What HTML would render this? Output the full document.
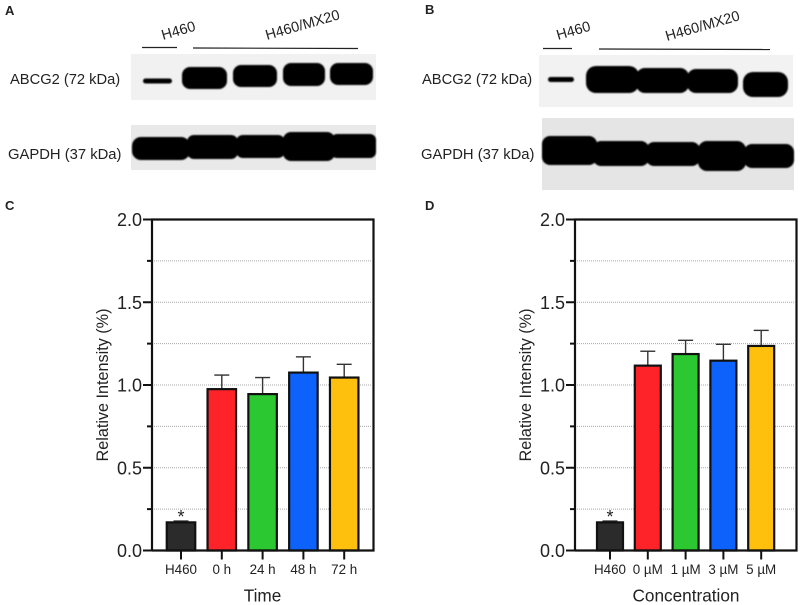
<!DOCTYPE html>
<html>
<head>
<meta charset="utf-8">
<style>
html,body{margin:0;padding:0;background:#fff;width:800px;height:605px;overflow:hidden}
svg{display:block;filter:blur(0.3px)}
text{font-family:"Liberation Sans",sans-serif;fill:#222}
</style>
</head>
<body>
<svg id="fig" xmlns="http://www.w3.org/2000/svg" width="800" height="605" viewBox="0 0 800 605">
<defs>
<filter id="b1" x="-10%" y="-30%" width="120%" height="160%"><feGaussianBlur stdDeviation="0.9"/></filter>
</defs>

<!-- Panel letters -->
<text x="5" y="15" font-size="13" font-weight="bold">A</text>
<text x="425" y="14" font-size="13" font-weight="bold">B</text>
<text x="5" y="210" font-size="13" font-weight="bold">C</text>
<text x="425" y="210" font-size="13" font-weight="bold">D</text>

<!-- Blot A -->
<g>
<line x1="142" y1="47.5" x2="177" y2="47.5" stroke="#222" stroke-width="1.2"/>
<line x1="193" y1="48" x2="358" y2="48.5" stroke="#222" stroke-width="1.2"/>
<text transform="translate(163,40) rotate(-16)" font-size="14.5" fill="#333">H460</text>
<text transform="translate(267,40) rotate(-16)" font-size="14.5" fill="#333">H460/MX20</text>
<text x="10" y="84" font-size="14.7" fill="#333">ABCG2 (72 kDa)</text>
<text x="8" y="159" font-size="14.8" fill="#333">GAPDH (37 kDa)</text>
<rect x="131" y="54" width="245" height="46" fill="#f1f1f1"/>
<rect x="131" y="125" width="245" height="45" fill="#e9e9e9"/>
<g filter="url(#b1)" fill="#000">
<rect x="143" y="78.5" width="29" height="5" rx="2.5"/>
<rect x="182" y="67" width="45" height="22" rx="8"/>
<rect x="233" y="65" width="44" height="22" rx="8"/>
<rect x="283" y="63" width="42" height="23" rx="8"/>
<rect x="330" y="63" width="43" height="22" rx="8"/>
</g>
<g filter="url(#b1)" fill="#000">
<rect x="132" y="137" width="58" height="23" rx="9"/>
<rect x="187" y="135" width="51" height="24" rx="7"/>
<rect x="236" y="135" width="49" height="23" rx="7"/>
<rect x="283" y="132" width="52" height="29" rx="8"/>
<rect x="331" y="134" width="45" height="24" rx="6"/>
</g>
</g>

<!-- Blot B -->
<g>
<line x1="543" y1="48.5" x2="572" y2="48.5" stroke="#222" stroke-width="1.2"/>
<line x1="599" y1="49" x2="770" y2="49.5" stroke="#222" stroke-width="1.2"/>
<text transform="translate(558,40) rotate(-16)" font-size="14.5" fill="#333">H460</text>
<text transform="translate(667,41) rotate(-16)" font-size="14.5" fill="#333">H460/MX20</text>
<text x="422" y="84" font-size="14.7" fill="#333">ABCG2 (72 kDa)</text>
<text x="421" y="159" font-size="14.8" fill="#333">GAPDH (37 kDa)</text>
<rect x="539" y="55" width="254" height="52" fill="#f2f2f2"/>
<rect x="542" y="118" width="252" height="72" fill="#e5e5e5"/>
<g filter="url(#b1)" fill="#000">
<rect x="548" y="77" width="26" height="5" rx="2.5"/>
<rect x="586" y="66" width="53" height="27" rx="10"/>
<rect x="636" y="68" width="53" height="25" rx="9"/>
<rect x="687" y="69" width="51" height="24" rx="9"/>
<rect x="743" y="72" width="45" height="25" rx="10"/>
</g>
<g filter="url(#b1)" fill="#000">
<rect x="542" y="136" width="55" height="29" rx="8"/>
<rect x="593" y="141" width="56" height="25" rx="8"/>
<rect x="646" y="142" width="54" height="24" rx="8"/>
<rect x="698" y="141" width="48" height="30" rx="9"/>
<rect x="744" y="144" width="50" height="24" rx="8"/>
</g>
</g>

<g id="chart-c"></g>
<g id="chart-d"></g>
</svg>

<script>
const timeCategories = ["H460", "0 h", "24 h", "48 h", "72 h"];
const timeValues = [0.17, 0.975, 0.945, 1.075, 1.045];
const timeErrors = [0.008, 0.085, 0.1, 0.095, 0.08];
const concCategories = ["H460", "0 µM", "1 µM", "3 µM", "5 µM"];
const concValues = [0.17, 1.117, 1.187, 1.147, 1.236];
const concErrors = [0.008, 0.087, 0.083, 0.099, 0.094];
const barColors = ["#2b2b2b", "#fe2229", "#2bc832", "#0d62fb", "#fec00d"];
const majorTickLabels = ["0.0", "0.5", "1.0", "1.5", "2.0"];
const minorTicks = [0.25, 0.75, 1.25, 1.75];
const yMax = 2.0;

const NS = "http://www.w3.org/2000/svg";

function mk(parent, tag, attrs, text) {
  const el = document.createElementNS(NS, tag);
  for (const k in attrs) el.setAttribute(k, attrs[k]);
  if (text !== undefined) el.textContent = text;
  parent.appendChild(el);
  return el;
}

function drawChart(rootId, categories, values, errors, xTitle, cfg) {
  const root = document.getElementById(rootId);
  const top = 219.5, bottom = 550.5;
  const y = v => bottom - (v / yMax) * (bottom - top);
  const x = i => cfg.first + i * cfg.step;

  majorTickLabels.forEach(t => {
    const v = parseFloat(t);
    if (v > 0 && v < yMax) {
      const g = mk(root, "line", {x1: cfg.left, x2: cfg.right - 2, y1: y(v), y2: y(v), stroke: "#a8a8a8", "stroke-width": 1, "stroke-dasharray": "1 1"});
      
      
    }
    const tick = mk(root, "line", {x1: cfg.left - 9, x2: cfg.left, y1: y(v), y2: y(v), stroke: "#111", "stroke-width": 2});
    
    
    const lab = mk(root, "text", {x: cfg.left - 10, y: y(v) + 6.5, "text-anchor": "end", "font-size": 18}, t);
    
    
  });

  minorTicks.forEach(v => {
    const g = mk(root, "line", {x1: cfg.left, x2: cfg.right - 2, y1: y(v), y2: y(v), stroke: "#a8a8a8", "stroke-width": 1, "stroke-dasharray": "1 1"});
    
    
    const tick = mk(root, "line", {x1: cfg.left - 5, x2: cfg.left, y1: y(v), y2: y(v), stroke: "#111", "stroke-width": 2});
    
    
  });

  categories.forEach((c, i) => {
    const cx = x(i);
    const errTop = y(values[i] + errors[i]);
    const stem = mk(root, "line", {x1: cx, x2: cx, y1: errTop, y2: y(values[i]), stroke: "#333", "stroke-width": 1.4});
    
    
    const cap = mk(root, "line", {x1: cx - cfg.cap, x2: cx + cfg.cap, y1: errTop, y2: errTop, stroke: "#333", "stroke-width": 1.4});
    
    
    const bar = mk(root, "rect", {x: cx - cfg.bw / 2, y: y(values[i]), width: cfg.bw, height: bottom - y(values[i]), fill: barColors[i], stroke: "#111", "stroke-width": 2.2});
    
    
    const tick = mk(root, "line", {x1: cx, x2: cx, y1: bottom, y2: bottom + 9, stroke: "#111", "stroke-width": 2});
    
    
    const lab = mk(root, "text", {x: cx, y: 574, "text-anchor": "middle", "font-size": 13.4}, c);
    
    
  });

  const star = mk(root, "text", {x: x(0), y: y(values[0] + errors[0]) + 2, "text-anchor": "middle", "font-size": 18}, "*");
  
  

  const frame = mk(root, "path", {d: `M${cfg.left} ${bottom}V${top}H${cfg.right}V${bottom}H${cfg.left}`, fill: "none", stroke: "#111", "stroke-width": 2.2});
  
  

  const yt = mk(root, "text", {transform: `translate(${cfg.left - 44},${(top + bottom) / 2}) rotate(-90)`, "text-anchor": "middle", "font-size": 16.2}, "Relative Intensity (%)");
  
  

  const xt = mk(root, "text", {x: cfg.titleX, y: 601.5, "text-anchor": "middle", "font-size": 17.2}, xTitle);
  
  
}

drawChart("chart-c", timeCategories, timeValues, timeErrors, "Time",
  {left: 152, right: 373.5, first: 181, step: 40.8, bw: 28.5, cap: 7.5, titleX: 262.5});
drawChart("chart-d", concCategories, concValues, concErrors, "Concentration",
  {left: 575, right: 796.5, first: 610, step: 37.8, bw: 26, cap: 7.5, titleX: 686});
</script>
</body>
</html>
